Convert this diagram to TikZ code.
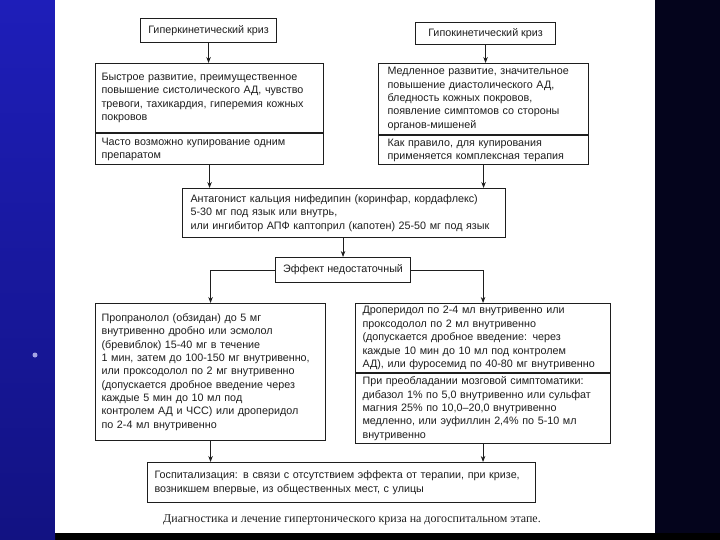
\documentclass[tikz,border=0pt]{standalone}
\usepackage{fontspec}
\setmainfont{Liberation Sans}
\newfontfamily\podpis{Liberation Serif}
\usetikzlibrary{arrows.meta}

\definecolor{fonsin}{RGB}{30,30,185}
\definecolor{fontem}{RGB}{18,18,130}
\definecolor{fonpr}{RGB}{4,4,28}
\definecolor{chern}{RGB}{30,30,30}

\tikzset{
  blok/.style={draw=chern, line width=1.1bp, anchor=north west, align=left,
    text=chern, font=\fontsize{10.8}{13.4}\selectfont, inner ysep=0pt},
  zagl/.style={draw=chern, line width=1.1bp, anchor=north west, align=center,
    text=chern, font=\fontsize{10.8}{13.4}\selectfont, inner sep=0pt},
  strelka/.style={draw=chern, line width=0.8bp, -{Stealth[length=6bp,width=4.5bp]}},
}

\begin{document}
\begin{tikzpicture}[x=1bp,y=-1bp]
    \useasboundingbox (0,0) rectangle (720,540);

    % фон слайда
    \fill[black] (0,0) rectangle (720,540);
    \shade[top color=fonsin, bottom color=fontem] (0,0) rectangle (55,540);
    \fill[fonpr] (655,0) rectangle (720,533);
    \fill[white] (55,0) rectangle (655,533);
    \fill[fonsin!40] (35,355) circle (2.5);

    % виды криза
    \node[zagl, minimum width=136bp, minimum height=24bp] (giper) at (140,18) {Гиперкинетический криз};
    \node[zagl, minimum width=140bp, minimum height=22bp] (gipo) at (415,22) {Гипокинетический криз};

    % клиника, левая колонка
    \node[blok, text width=216bp, inner xsep=6bp, minimum height=69bp] (klin1) at (95,63)
      {Быстрое развитие, преимущественное\\повышение систолического АД, чувство\\тревоги, тахикардия, гиперемия кожных\\покровов};
    \node[blok, text width=216bp, inner xsep=6bp, minimum height=31bp] (kup1) at (klin1.south west)
      {Часто возможно купирование одним\\препаратом};

    % клиника, правая колонка
    \node[blok, text width=192bp, inner xsep=9bp, minimum height=71bp] (klin2) at (378,63)
      {Медленное развитие, значительное\\повышение диастолического АД,\\бледность кожных покровов,\\появление симптомов со стороны\\органов-мишеней};
    \node[blok, text width=192bp, inner xsep=9bp, minimum height=29bp] (kup2) at (klin2.south west)
      {Как правило, для купирования\\применяется комплексная терапия};

    % первая помощь
    \node[blok, text width=307bp, inner xsep=8bp, minimum height=49bp] (nifed) at (182,188)
      {Антагонист кальция нифедипин (коринфар, кордафлекс)\\5-30 мг под язык или внутрь,\\или ингибитор АПФ каптоприл (капотен) 25-50 мг под язык};

    \node[zagl, minimum width=135bp, minimum height=25bp] (effekt) at (275,257) {Эффект недостаточный};

    % вторая ступень
    \node[blok, text width=218bp, inner xsep=6bp, minimum height=137bp] (beta) at (95,303)
      {Пропранолол (обзидан) до 5 мг\\внутривенно дробно или эсмолол\\(бревиблок) 15-40 мг в течение\\1 мин, затем до 100-150 мг внутривенно,\\или проксодолол по 2 мг внутривенно\\(допускается дробное введение через\\каждые 5 мин до 10 мл под\\контролем АД и ЧСС) или дроперидол\\по 2-4 мл внутривенно};
    \node[blok, text width=241bp, inner xsep=7bp, minimum height=69bp] (drop) at (355,303)
      {Дроперидол по 2-4 мл внутривенно или\\проксодолол по 2 мл внутривенно\\(допускается дробное введение: через\\каждые 10 мин до 10 мл под контролем\\АД), или фуросемид по 40-80 мг внутривенно};
    \node[blok, text width=241bp, inner xsep=7bp, minimum height=70bp] (mozg) at (drop.south west)
      {При преобладании мозговой симптоматики:\\дибазол 1\% по 5,0 внутривенно или сульфат\\магния 25\% по 10,0--20,0 внутривенно\\медленно, или эуфиллин 2,4\% по 5-10 мл\\внутривенно};

    % госпитализация
    \node[blok, text width=374bp, inner xsep=7bp, minimum height=40bp] (gosp) at (147,462)
      {Госпитализация: в связи с отсутствием эффекта от терапии, при кризе,\\возникшем впервые, из общественных мест, с улицы};

    \node[text=chern, font=\podpis\fontsize{12}{14}\selectfont] (nazv) at (352,520)
      {Диагностика и лечение гипертонического криза на догоспитальном этапе.};

    % стрелки
    \draw[strelka] (giper.south) -- (giper.south |- klin1.north);
    \draw[strelka] (gipo.south) -- (gipo.south |- klin2.north);
    \draw[strelka] (kup1.south) -- (kup1.south |- nifed.north);
    \draw[strelka] (kup2.south) -- (kup2.south |- nifed.north);
    \draw[strelka] (effekt.north |- nifed.south) -- (effekt.north);
    \draw[strelka] (effekt.west) -| (beta.north);
    \draw[strelka] (effekt.east) -| (drop.north);
    \draw[strelka] (beta.south) -- (beta.south |- gosp.north);
    \draw[strelka] (mozg.south) -- (mozg.south |- gosp.north);
\end{tikzpicture}
\end{document}
